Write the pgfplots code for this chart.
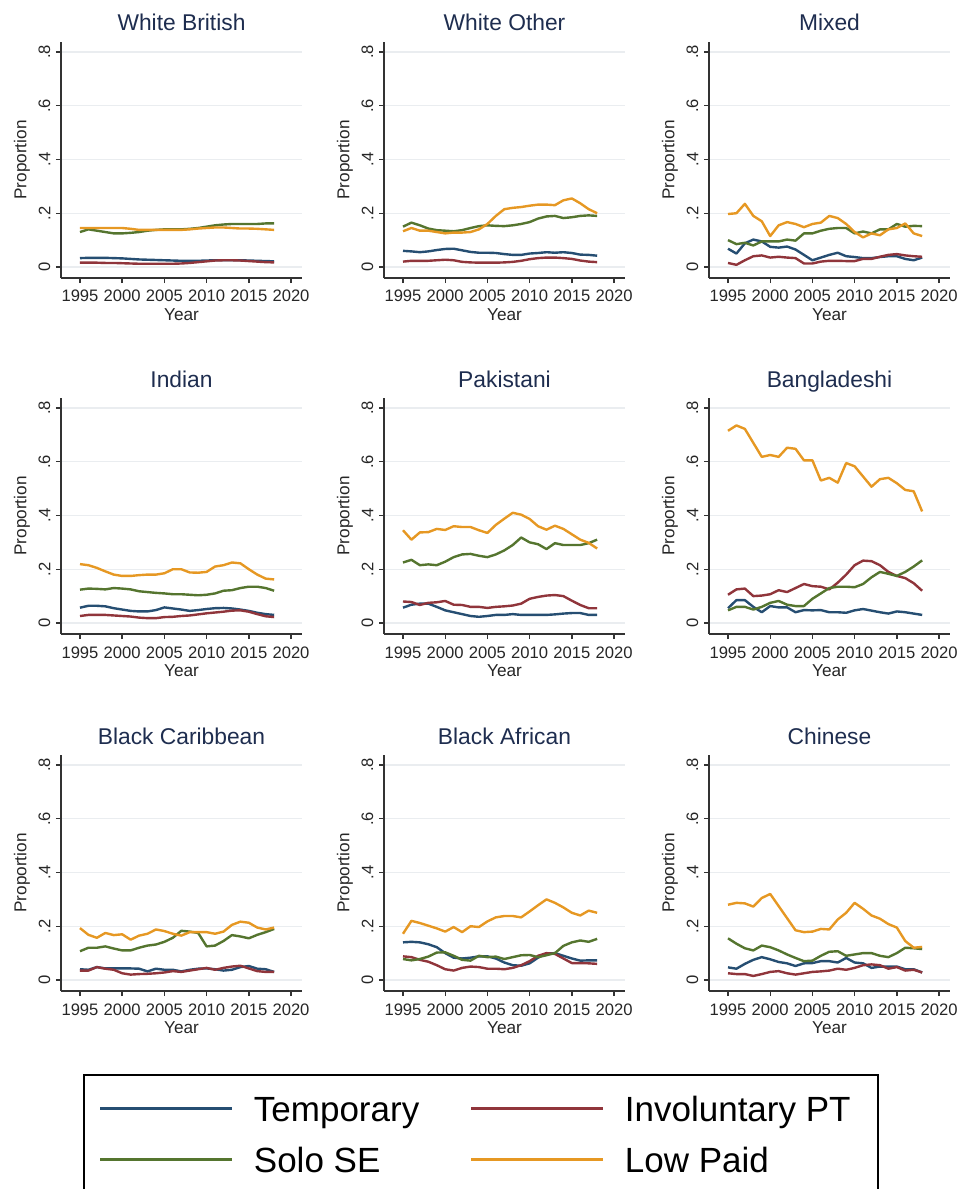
\documentclass[border=0pt]{standalone}
\usepackage{fontspec}
\setmainfont{Liberation Sans}
\usepackage{pgfplots}
\usepackage{pgfplotstable}
\pgfplotsset{compat=1.18}

\definecolor{ctemp}{RGB}{38,78,114}
\definecolor{cinv}{RGB}{144,53,59}
\definecolor{csolo}{RGB}{85,117,47}
\definecolor{clow}{RGB}{230,152,35}
\definecolor{ctitle}{RGB}{30,45,79}
\definecolor{cgrid}{RGB}{234,237,240}

% yr  t=Temporary  i=Involuntary PT  s=Solo SE  l=Low Paid
\pgfplotstableread{
yr t i s l
1995 .033 .016 .130 .145
1996 .034 .016 .140 .145
1997 .034 .016 .135 .145
1998 .034 .015 .130 .145
1999 .033 .015 .125 .145
2000 .032 .014 .125 .145
2001 .030 .013 .127 .142
2002 .028 .012 .130 .138
2003 .027 .012 .135 .138
2004 .026 .012 .138 .138
2005 .025 .012 .140 .138
2006 .024 .012 .140 .138
2007 .023 .013 .140 .138
2008 .023 .015 .142 .140
2009 .023 .018 .145 .143
2010 .024 .021 .150 .145
2011 .025 .024 .155 .147
2012 .025 .025 .158 .147
2013 .025 .025 .160 .145
2014 .025 .024 .160 .143
2015 .024 .022 .160 .143
2016 .023 .020 .160 .142
2017 .022 .018 .162 .140
2018 .021 .017 .162 .138
}\WB
\pgfplotstableread{
yr t i s l
1995 .060 .020 .150 .133
1996 .058 .023 .165 .145
1997 .055 .023 .155 .135
1998 .058 .023 .143 .135
1999 .063 .025 .137 .130
2000 .067 .027 .135 .125
2001 .068 .025 .133 .128
2002 .062 .019 .137 .128
2003 .056 .017 .145 .130
2004 .053 .016 .152 .140
2005 .053 .016 .155 .160
2006 .052 .016 .153 .190
2007 .048 .017 .152 .215
2008 .045 .019 .155 .220
2009 .045 .023 .160 .223
2010 .050 .029 .167 .228
2011 .052 .033 .180 .232
2012 .055 .035 .188 .232
2013 .053 .035 .190 .230
2014 .055 .033 .182 .248
2015 .052 .030 .185 .255
2016 .046 .024 .190 .237
2017 .045 .020 .192 .215
2018 .042 .018 .190 .200
}\WO
\pgfplotstableread{
yr t i s l
1995 .068 .015 .100 .197
1996 .050 .008 .085 .200
1997 .088 .025 .090 .235
1998 .102 .040 .080 .190
1999 .095 .043 .095 .170
2000 .075 .035 .095 .115
2001 .072 .038 .095 .155
2002 .076 .035 .102 .167
2003 .065 .033 .098 .160
2004 .045 .013 .125 .148
2005 .025 .013 .125 .160
2006 .035 .020 .135 .165
2007 .045 .023 .142 .190
2008 .053 .023 .145 .182
2009 .040 .022 .145 .160
2010 .037 .022 .125 .130
2011 .033 .030 .132 .110
2012 .033 .030 .125 .125
2013 .037 .038 .140 .118
2014 .040 .045 .140 .140
2015 .040 .048 .160 .145
2016 .030 .043 .150 .162
2017 .025 .040 .153 .125
2018 .035 .038 .152 .115
}\MX
\pgfplotstableread{
yr t i s l
1995 .057 .026 .124 .219
1996 .064 .030 .128 .215
1997 .064 .030 .127 .205
1998 .062 .030 .125 .192
1999 .055 .028 .130 .180
2000 .050 .026 .128 .175
2001 .045 .024 .125 .175
2002 .043 .020 .118 .178
2003 .043 .018 .115 .180
2004 .048 .018 .112 .180
2005 .058 .022 .110 .185
2006 .054 .023 .107 .200
2007 .050 .026 .107 .200
2008 .045 .028 .105 .188
2009 .048 .032 .103 .187
2010 .052 .036 .105 .190
2011 .055 .039 .110 .210
2012 .056 .042 .120 .215
2013 .054 .046 .122 .225
2014 .050 .047 .130 .222
2015 .045 .042 .135 .200
2016 .038 .033 .135 .180
2017 .033 .025 .130 .165
2018 .030 .022 .120 .162
}\IN
\pgfplotstableread{
yr t i s l
1995 .057 .080 .225 .345
1996 .068 .078 .235 .310
1997 .072 .067 .215 .337
1998 .072 .075 .218 .338
1999 .060 .077 .215 .350
2000 .047 .082 .228 .346
2001 .040 .068 .245 .360
2002 .033 .067 .255 .357
2003 .026 .060 .257 .357
2004 .023 .060 .250 .345
2005 .026 .056 .245 .335
2006 .030 .060 .255 .365
2007 .030 .062 .270 .388
2008 .033 .065 .290 .410
2009 .030 .072 .318 .403
2010 .030 .090 .300 .387
2011 .030 .097 .293 .360
2012 .030 .102 .275 .347
2013 .032 .104 .297 .362
2014 .035 .100 .290 .350
2015 .037 .083 .290 .330
2016 .037 .067 .290 .310
2017 .030 .055 .297 .298
2018 .030 .055 .310 .277
}\PK
\pgfplotstableread{
yr t i s l
1995 .055 .105 .047 .715
1996 .085 .125 .060 .735
1997 .085 .128 .060 .722
1998 .060 .100 .050 .670
1999 .040 .102 .060 .618
2000 .063 .107 .075 .625
2001 .058 .122 .082 .618
2002 .058 .115 .068 .652
2003 .040 .130 .063 .648
2004 .048 .145 .063 .605
2005 .047 .137 .090 .605
2006 .048 .135 .110 .530
2007 .040 .125 .130 .540
2008 .040 .150 .135 .522
2009 .038 .180 .135 .595
2010 .047 .215 .133 .583
2011 .052 .232 .145 .545
2012 .046 .230 .170 .507
2013 .040 .215 .190 .535
2014 .035 .190 .183 .540
2015 .043 .175 .175 .520
2016 .040 .167 .190 .495
2017 .035 .148 .210 .490
2018 .030 .120 .233 .415
}\BD
\pgfplotstableread{
yr t i s l
1995 .040 .035 .107 .193
1996 .038 .035 .120 .168
1997 .048 .048 .120 .157
1998 .043 .042 .125 .175
1999 .043 .038 .117 .167
2000 .043 .025 .110 .170
2001 .043 .020 .110 .150
2002 .042 .022 .120 .165
2003 .032 .023 .128 .172
2004 .042 .025 .132 .188
2005 .038 .028 .142 .182
2006 .038 .033 .157 .172
2007 .032 .030 .183 .165
2008 .038 .035 .180 .178
2009 .042 .040 .175 .178
2010 .043 .045 .125 .178
2011 .040 .038 .128 .172
2012 .035 .045 .145 .180
2013 .038 .050 .167 .205
2014 .048 .053 .162 .217
2015 .052 .043 .155 .213
2016 .042 .033 .168 .195
2017 .040 .030 .178 .188
2018 .030 .030 .190 .195
}\BC
\pgfplotstableread{
yr t i s l
1995 .140 .088 .078 .172
1996 .142 .085 .073 .220
1997 .140 .075 .078 .212
1998 .133 .068 .087 .202
1999 .122 .055 .102 .192
2000 .100 .040 .103 .180
2001 .083 .035 .090 .197
2002 .080 .045 .075 .178
2003 .083 .050 .072 .200
2004 .088 .048 .090 .197
2005 .088 .042 .085 .218
2006 .080 .042 .087 .233
2007 .065 .040 .078 .238
2008 .055 .045 .085 .238
2009 .053 .055 .092 .233
2010 .062 .070 .093 .255
2011 .083 .090 .085 .278
2012 .098 .100 .092 .300
2013 .100 .097 .100 .287
2014 .090 .080 .127 .270
2015 .080 .063 .140 .250
2016 .072 .063 .147 .240
2017 .073 .062 .142 .258
2018 .073 .060 .153 .250
}\BA
\pgfplotstableread{
yr t i s l
1995 .047 .025 .155 .280
1996 .042 .022 .135 .287
1997 .060 .022 .118 .285
1998 .075 .015 .110 .273
1999 .085 .022 .128 .305
2000 .077 .030 .122 .320
2001 .067 .033 .110 .275
2002 .062 .025 .095 .230
2003 .052 .020 .082 .185
2004 .062 .025 .070 .178
2005 .063 .030 .072 .180
2006 .070 .032 .090 .190
2007 .070 .035 .105 .188
2008 .065 .042 .107 .225
2009 .082 .038 .090 .250
2010 .065 .045 .095 .287
2011 .062 .055 .100 .265
2012 .045 .058 .100 .240
2013 .050 .055 .090 .228
2014 .050 .042 .085 .208
2015 .050 .048 .100 .195
2016 .040 .035 .120 .145
2017 .040 .038 .118 .120
2018 .028 .028 .115 .123
}\CN

\pgfplotsset{
  panel/.style={
    scale only axis, width=120.5pt, height=118pt, anchor=south west,
    xmin=1992.75, xmax=2021.3, ymin=-0.041, ymax=0.837,
    axis x line*=bottom, axis y line*=left,
    axis line style={black!80, line width=0.7pt},
    tick style={black!80, line width=0.7pt},
    tick align=outside, major tick length=2.5pt,
    xtick={1995,2000,2005,2010,2015,2020},
    xticklabels={1995,2000,2005,2010,2015,2020},
    ytick={0,0.2,0.4,0.6,0.8},
    yticklabels={0,.2,.4,.6,.8},
    ymajorgrids, major grid style={cgrid, line width=0.7pt},
    ticklabel style={font=\fontsize{8.3}{9}\selectfont, text=black!85},
    xticklabel style={anchor=north, inner sep=0pt, inner ysep=3.5pt},
    yticklabel style={rotate=90, anchor=south, inner sep=0pt, inner ysep=2.6pt},
    xlabel={Year}, ylabel={Proportion},
    label style={font=\fontsize{8.6}{10}\selectfont, text=black!85},
    xlabel style={at={(axis description cs:0.5,-0.157)}, anchor=center},
    ylabel style={at={(axis description cs:-0.162,0.5)}, anchor=center, rotate=0},
    every axis title shift=0pt,
    title style={at={(axis description cs:0.5,1.0466)}, anchor=base, yshift=0pt,
      font=\fontsize{11.4}{13}\selectfont, text=ctitle},
    every axis plot/.append style={line width=1.2pt, line join=round, no markers},
  },
}

\newcommand{\panel}[4]{%
  \begin{axis}[panel, at={(#1,#2)}, title={#3}]
    \addplot[ctemp] table[x=yr,y=t]{#4};
    \addplot[cinv] table[x=yr,y=i]{#4};
    \addplot[csolo] table[x=yr,y=s]{#4};
    \addplot[clow] table[x=yr,y=l]{#4};
  \end{axis}}

\begin{document}
\begin{tikzpicture}
\panel{30.5pt}{-139pt}{White British}{\WB}
\panel{192pt}{-139pt}{White Other}{\WO}
\panel{354.5pt}{-139pt}{Mixed}{\MX}
\panel{30.5pt}{-317pt}{Indian}{\IN}
\panel{192pt}{-317pt}{Pakistani}{\PK}
\panel{354.5pt}{-317pt}{Bangladeshi}{\BD}
\panel{30.5pt}{-495.5pt}{Black Caribbean}{\BC}
\panel{192pt}{-495.5pt}{Black African}{\BA}
\panel{354.5pt}{-495.5pt}{Chinese}{\CN}

% legend holder
\begin{axis}[at={(0pt,-594.5pt)}, anchor=south west, scale only axis,
  width=480.5pt, height=594.5pt, xmin=0, xmax=1, ymin=0, ymax=1, hide axis,
  legend columns=2,
  legend cell align=left,
  legend image code/.code={\draw[line width=1.5pt] (0pt,0pt) -- (66pt,0pt);},
  legend style={at={(0.0864,0.0967)}, anchor=north west,
    draw=black, line width=0.9pt, fill=white,
    font=\fontsize{17.5}{20}\selectfont,
    inner xsep=7.5pt, inner ysep=10.7pt,
    nodes={inner sep=0pt, text height=12.6pt, text depth=0pt},
    row sep=12.9pt, column sep=0pt,
    /tikz/every odd column/.append style={column sep=10pt},
    /tikz/every even column/.append style={column sep=0pt}},
]
\addlegendimage{ctemp}
\addlegendentry{\makebox[108pt][l]{Temporary}}
\addlegendimage{cinv}
\addlegendentry{\makebox[119pt][l]{Involuntary PT}}
\addlegendimage{csolo}
\addlegendentry{\makebox[108pt][l]{Solo SE}}
\addlegendimage{clow}
\addlegendentry{\makebox[119pt][l]{Low Paid}}
\end{axis}

\pgfresetboundingbox
\path[use as bounding box] (0pt,0pt) rectangle (480.5pt,-594.5pt);
\end{tikzpicture}
\end{document}
